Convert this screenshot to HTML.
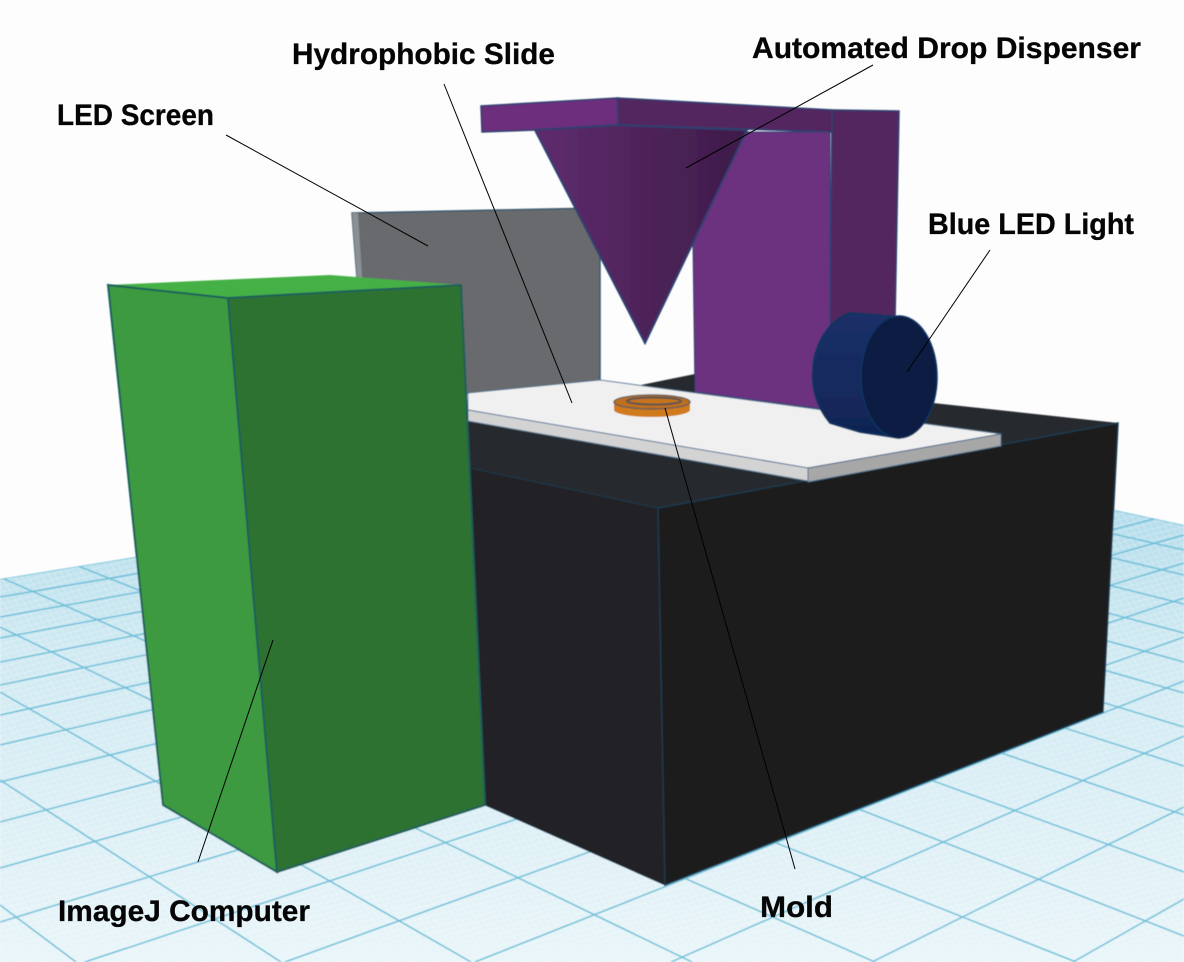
<!DOCTYPE html>
<html><head><meta charset="utf-8"><style>
html,body{margin:0;padding:0;background:#fff;overflow:hidden;width:1184px;height:962px}
svg{display:block;overflow:hidden}
text{font-family:"Liberation Sans",sans-serif;font-weight:bold;font-size:30px;fill:#050505;stroke:#050505;stroke-width:.3}
</style></head><body>
<svg width="1184" height="962" viewBox="0 0 1184 962" xmlns="http://www.w3.org/2000/svg">
<defs>
<linearGradient id="gr" gradientUnits="userSpaceOnUse" x1="0" y1="510" x2="0" y2="962"><stop offset="0" stop-color="#b4ddeb"/><stop offset="0.3" stop-color="#cfe9f2"/><stop offset="1" stop-color="#e8f5f9"/></linearGradient>
<linearGradient id="cone" x1="0" y1="0" x2="1" y2="0"><stop offset="0" stop-color="#5f2c6e"/><stop offset="0.55" stop-color="#4d2359"/><stop offset="1" stop-color="#3d1c4a"/></linearGradient>
<linearGradient id="led" x1="0" y1="0" x2="0" y2="1"><stop offset="0" stop-color="#1b3068"/><stop offset="0.6" stop-color="#162a5e"/><stop offset="1" stop-color="#0f2350"/></linearGradient>
<pattern id="mesh" width="6" height="5" patternUnits="userSpaceOnUse" patternTransform="matrix(1 -0.25 0.6 1 0 0)"><path d="M0 0H6M0 0V5" stroke="#ffffff" stroke-opacity=".45" stroke-width="1" fill="none"/></pattern>
<clipPath id="pl"><polygon points="0,579 818,446 1184,525 1184,962 0,962"/></clipPath>
<filter id="soft" x="0" y="0" width="1" height="1"><feGaussianBlur stdDeviation="0.6"/></filter>
</defs>
<rect width="1184" height="962" fill="#fdfdfd"/>
<g filter="url(#soft)">
<g clip-path="url(#pl)">
<rect width="1184" height="962" fill="url(#gr)"/>
<rect width="1184" height="962" fill="url(#mesh)"/>
<g stroke="#6cbfd9" stroke-width="1.5" fill="none">
<path d="M0 579L1184 386M0 597L1184 395M0 617L1184 405M0 638L1184 416M0 662L1184 429M0 685L1184 440M0 715L1184 456M0 745L1184 471M0 782L1184 491M0 822L1184 511M0 868L1184 535M0 922L1184 563M85 962L1184 598M285 962L1184 637M475 962L1184 681M671 962L1184 736M872 962L1184 807M1073 962L1184 899"/>
<path d="M0 268L1184 525M0 281L1184 550M0 293L1184 575M0 308L1184 604M0 322L1184 633M0 337L1184 662M0 352L1184 693M0 369L1184 727M0 389L1184 766M0 413L1184 815M0 442L1184 872M0 474L1184 936M0 535L1076 962M0 577L875 962M0 627L692 962M0 692L471 962M0 780L281 962M0 905L76 962"/>
</g>
</g>
<!-- black box -->
<polygon points="468,420 695,374 933,403 1118,423 658,508 470,468" fill="#272b2e"/>
<polygon points="470,468 658,508 665,885 485,805" fill="#232428" stroke="#1d3a4e" stroke-width="1"/>
<polygon points="658,508 1118,423 1103,712 665,885" fill="#1b1c1e" stroke="#1d3a4e" stroke-width="1.5"/>
<!-- LED screen -->
<polygon points="352,213 600,208 600,382 468,394 358,290" fill="#676b6d" stroke="#3a5a70" stroke-width="1.5"/>
<polygon points="352,213 358,213 363,290 358,290" fill="#8b9094"/>
<!-- purple column -->
<polygon points="832,110 899,111 895,320 830,330" fill="#52265e" stroke="#2f4070" stroke-width="1.5"/>
<polygon points="730,132 830,132 830,410 695,392 693,243" fill="#6c337f" stroke="#2f4070" stroke-width="1"/>
<!-- beam -->
<polygon points="617,98 832,110 832,132 618,125" fill="#52265e" stroke="#2f4070" stroke-width="1.5"/>
<polygon points="481,106 617,98 618,125 535,130 482,132" fill="#6c2f7d" stroke="#2f4070" stroke-width="1.5"/>
<!-- cone -->
<polygon points="535,130 618,125 747,130 645,343" fill="url(#cone)" stroke="#2f4070" stroke-width="2"/>
<!-- slide -->
<polygon points="468,393 600,380 1001,434 808,468 468,410" fill="#f0f0f1" stroke="#5a7a96" stroke-width="1"/>
<polygon points="468,410 808,468 808,481 468,421" fill="#d3d3d4" stroke="#5a7a96" stroke-width="1"/>
<polygon points="808,468 1001,434 1001,446 808,482" fill="#a7a7a8" stroke="#4a6a88" stroke-width="1"/>
<!-- mold -->
<path d="M614 402 V410 A38 7 0 0 0 690 410 V402 Z" fill="#d07a1a"/>
<ellipse cx="652" cy="402" rx="38" ry="7" fill="#c0701e" stroke="#6a5f55" stroke-width="1.5"/>
<ellipse cx="654" cy="401" rx="27" ry="3.5" fill="#c7751f" stroke="#5a5550" stroke-width="2"/>
<!-- Blue LED -->
<path d="M850 313 L900 317 L899 438 L860 432 L830 423 C815 405 812 385 813 372 C813 350 825 322 850 313 Z" fill="url(#led)" stroke="#0f3562" stroke-width="2"/>
<ellipse cx="899" cy="377" rx="38" ry="61" fill="#0f1d42" stroke="#0f3562" stroke-width="1.5"/>
<!-- green box -->
<polygon points="108,285 330,275 461,285 228,298" fill="#45b045"/>
<polygon points="108,285 228,298 277,872 163,805" fill="#3c9a40" stroke="#1f5f5c" stroke-width="2"/>
<polygon points="228,298 461,285 485,805 277,872" fill="#2d7230" stroke="#1f5f5c" stroke-width="2"/>
</g>
<!-- leader lines -->
<g stroke="#000" stroke-width="1" fill="none">
<path d="M226 135L428 246"/>
<path d="M444 84L572 403"/>
<path d="M873 65L686 168"/>
<path d="M990 250L907 372"/>
<path d="M198 862L273 640"/>
<path d="M795 869L665 408"/>
</g>
<text x="57" y="125" textLength="157" lengthAdjust="spacingAndGlyphs">LED Screen</text>
<text x="292" y="64" textLength="263" lengthAdjust="spacingAndGlyphs">Hydrophobic Slide</text>
<text x="752" y="58" textLength="389" lengthAdjust="spacingAndGlyphs">Automated Drop Dispenser</text>
<text x="928" y="234" textLength="206" lengthAdjust="spacingAndGlyphs">Blue LED Light</text>
<text x="58" y="921" textLength="252" lengthAdjust="spacingAndGlyphs">ImageJ Computer</text>
<text x="760" y="917" textLength="73" lengthAdjust="spacingAndGlyphs">Mold</text>
</svg>
</body></html>
